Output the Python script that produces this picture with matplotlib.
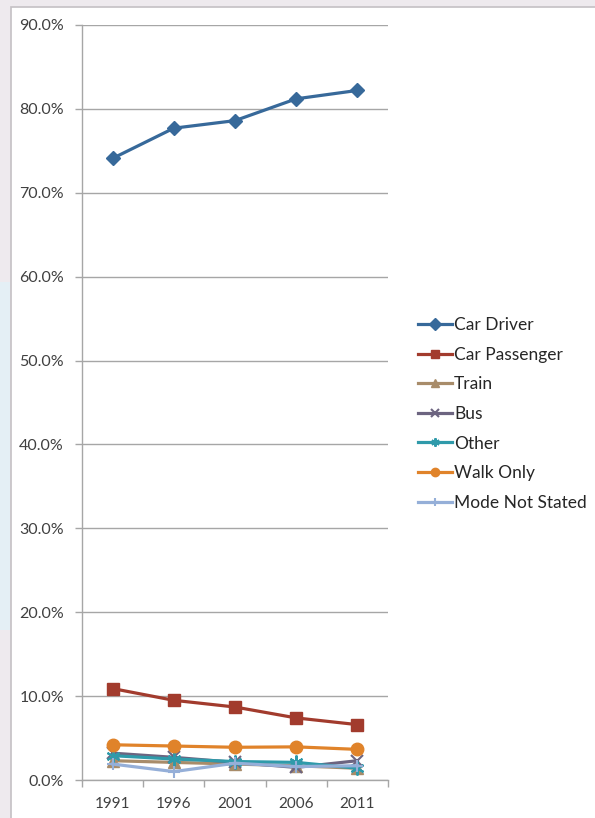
import matplotlib
matplotlib.use("Agg")
import matplotlib.pyplot as plt
from matplotlib.patches import Rectangle
from matplotlib.ticker import FuncFormatter, FixedLocator
import numpy as np

years = ["1991", "1996", "2001", "2006", "2011"]
car_driver = [74.1, 77.7, 78.6, 81.2, 82.2]
car_passenger = [10.9, 9.5, 8.7, 7.4, 6.6]
train = [2.3, 2.1, 1.9, 1.7, 1.4]
bus = [3.2, 2.7, 2.1, 1.5, 2.3]
other = [2.9, 2.5, 2.2, 2.1, 1.4]
walk_only = [4.2, 4.05, 3.9, 3.95, 3.65]
mode_not_stated = [1.9, 1.0, 2.0, 1.6, 1.7]

series = [
    ("Car Driver", car_driver, "#37699A", "D", 7),
    ("Car Passenger", car_passenger, "#A23B2D", "s", 8),
    ("Train", train, "#A88C6A", "^", 8),
    ("Bus", bus, "#6C6480", "x", 8),
    ("Other", other, "#2F9AAA", (6, 2, 0), 10),
    ("Walk Only", walk_only, "#E0832A", "o", 9),
    ("Mode Not Stated", mode_not_stated, "#95AFD8", "+", 9),
]

plt.rcParams['font.family'] = ['Lato', 'DejaVu Sans']

fig = plt.figure(figsize=(5.95, 8.18), dpi=100)
fig.patch.set_facecolor("#EEEAEE")
W, H = 595, 818
# background axes for panel decoration
bg = fig.add_axes([0, 0, 1, 1], zorder=-5)
bg.set_xlim(0, W)
bg.set_ylim(H, 0)
bg.axis("off")
bg.add_patch(Rectangle((11, 7), W - 11 + 5, H, facecolor="white", edgecolor="#C4C0C4", linewidth=1.2))
bg.add_patch(Rectangle((0, 282), 10, 630 - 282, facecolor="#E4EFF5", edgecolor="none"))

ax = fig.add_axes([82 / W, 1 - 780 / H, (388 - 82) / W, (780 - 25) / H])
ax.set_facecolor("none")
x = np.arange(len(years))
for name, vals, col, mk, ms in series:
    kw = dict(color=col, linewidth=2.3, marker=mk, markersize=ms, label=name,
              markerfacecolor=col, markeredgecolor=col)
    if mk in ("x", "+") or isinstance(mk, tuple):
        kw["markeredgewidth"] = 1.5
    ax.plot(x, vals, **kw)

ax.set_xlim(-0.5, 4.5)
ax.set_ylim(0, 90)
ax.set_yticks(np.arange(0, 91, 10))
ax.yaxis.set_major_formatter(FuncFormatter(lambda v, p: f"{v:.1f}%"))
ax.yaxis.grid(True, color="#A6A6A6", linewidth=1.0)
ax.set_axisbelow(True)

ax.set_xticks(x)
ax.set_xticklabels(years)
ax.xaxis.set_minor_locator(FixedLocator(np.arange(-0.5, 4.6, 1)))
ax.tick_params(axis="x", which="major", length=0, pad=12, labelsize=11, colors="#404040")
ax.tick_params(axis="x", which="minor", length=5, width=1.0, color="#A6A6A6")
ax.tick_params(axis="y", length=5, width=1.0, color="#A6A6A6", pad=8, labelsize=11.5,
               labelcolor="#404040")

for s in ["top", "right"]:
    ax.spines[s].set_visible(False)
for s in ["left", "bottom"]:
    ax.spines[s].set_color("#A6A6A6")
    ax.spines[s].set_linewidth(1.0)

leg = ax.legend(loc="center left", bbox_to_anchor=(402 / W, 1 - 414 / H),
                bbox_transform=fig.transFigure, frameon=False, fontsize=12.5,
                handlelength=2.0, handletextpad=0.1, labelspacing=0.78,
                labelcolor="#262626")
for h in leg.legend_handles:
    h.set_markersize(6)

fig.savefig("out.png", dpi=100, facecolor=fig.get_facecolor())
